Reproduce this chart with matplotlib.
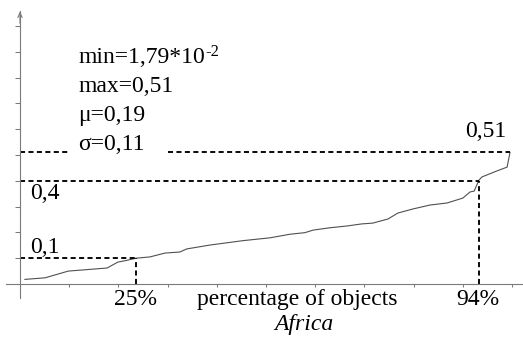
import numpy as np
import matplotlib
matplotlib.use("Agg")
import matplotlib.pyplot as plt

# Datos (percentage of objects vs valor)
pct = [1.0, 5.1, 9.8, 17.7, 19.9, 21.3, 23.6, 26.4, 29.5, 32.5, 33.9, 38.6,
       45.3, 50.8, 54.9, 57.9, 59.6, 63.0, 66.5, 69.5, 71.7, 74.8, 76.8,
       79.9, 83.3, 86.8, 90.0, 91.5, 92.3, 93.3, 93.9, 96.9, 99.0, 99.6]
values = [0.0179, 0.024, 0.050, 0.062, 0.085, 0.090, 0.100, 0.105, 0.120,
          0.124, 0.136, 0.151, 0.168, 0.179, 0.193, 0.199, 0.209, 0.218,
          0.225, 0.233, 0.236, 0.252, 0.275, 0.291, 0.306, 0.314, 0.333,
          0.357, 0.360, 0.403, 0.415, 0.438, 0.453, 0.510]

stats_lines = ["min=1,79*10", "max=0,51", "\u03bc=0,19", "\u03c3=0,11"]
min_exponent = "-2"
q_low_pct, q_low_val = 23.6, 0.10
q_high_pct, q_high_val = 93.3, 0.40
max_val = 0.51
y_ticks = np.arange(0.1, 1.01, 0.1)
x_ticks = np.arange(10, 101, 10)

# Estilo
plt.rcParams['font.family'] = 'Liberation Serif'
FS = 17
axis_gray = '#7a7a7a'

fig = plt.figure(figsize=(5.23, 3.41), dpi=100)
ax = fig.add_axes([0, 0, 1, 1])
ax.set_xlim(-4.065, 102.24)
ax.set_ylim(-0.2209, 1.1008)
ax.patch.set_visible(False)

# Ejes en el origen
for s in ['top', 'right']:
    ax.spines[s].set_visible(False)
ax.spines['left'].set_position(('data', 0))
ax.spines['bottom'].set_position(('data', 0))
ax.spines['left'].set_bounds(-0.054, 1.06)
ax.spines['bottom'].set_bounds(-2.85, 102.24)
for s in ['left', 'bottom']:
    ax.spines[s].set_color(axis_gray)
    ax.spines[s].set_linewidth(0.8)

ax.set_xticks(x_ticks)
ax.set_yticks(y_ticks)
ax.tick_params(axis='x', direction='out', length=2.5, width=0.75,
               color=axis_gray, labelbottom=False)
ax.tick_params(axis='y', direction='out', length=3.6, width=0.75,
               color=axis_gray, labelleft=False)

# Flechas de los ejes
ax.annotate('', xy=(0, 1.068), xytext=(0, 1.0),
            arrowprops=dict(arrowstyle='->,head_length=0.35,head_width=0.15',
                            lw=0.8, color=axis_gray))
ax.annotate('', xy=(102.6, 0), xytext=(99, 0),
            arrowprops=dict(arrowstyle='->,head_length=0.35,head_width=0.15',
                            lw=0.8, color=axis_gray))

# Curva
ax.plot(pct, values, color='#505050', lw=0.8)

# Lineas punteadas
dash = dict(color='black', lw=1.35, linestyle=(0, (2.7, 1.8)))
ax.plot([0, 9.8], [max_val, max_val], **dash)
ax.plot([30.1, pct[-1]], [max_val, max_val], **dash)
ax.plot([0, q_high_pct], [q_high_val, q_high_val], **dash)
ax.plot([q_high_pct, q_high_pct], [0, q_high_val], **dash)
ax.plot([0, q_low_pct], [q_low_val, q_low_val], **dash)
ax.plot([q_low_pct, q_low_pct], [0, q_low_val], **dash)

# Texto de estadisticas
stat_texts = []
for i, line in enumerate(stats_lines):
    t = ax.text(11.8, 0.857 - i * 0.1125, line, fontsize=FS, ha='left', va='baseline')
    stat_texts.append(t)
# exponente del minimo
ax.annotate(min_exponent, xy=(1, 0), xycoords=stat_texts[0],
            xytext=(0.5, 5.5), textcoords='offset points',
            fontsize=12, ha='left', va='bottom')

# Etiquetas
ax.text(90.4, 0.570, "0,51", fontsize=FS, ha='left', va='baseline')
ax.text(2.0, 0.329, "0,4", fontsize=FS, ha='left', va='baseline')
ax.text(2.0, 0.120, "0,1", fontsize=FS, ha='left', va='baseline')
ax.text(23.4, -0.081, "25%", fontsize=FS, ha='center', va='baseline')
ax.text(93.0, -0.081, "94%", fontsize=FS, ha='center', va='baseline')
ax.text(56.3, -0.081, "percentage of objects", fontsize=FS, ha='center', va='baseline')
ax.text(57.8, -0.178, "Africa", fontsize=FS, ha='center', va='baseline', style='italic')

plt.savefig('out.png', dpi=100, facecolor='white')
plt.close()
